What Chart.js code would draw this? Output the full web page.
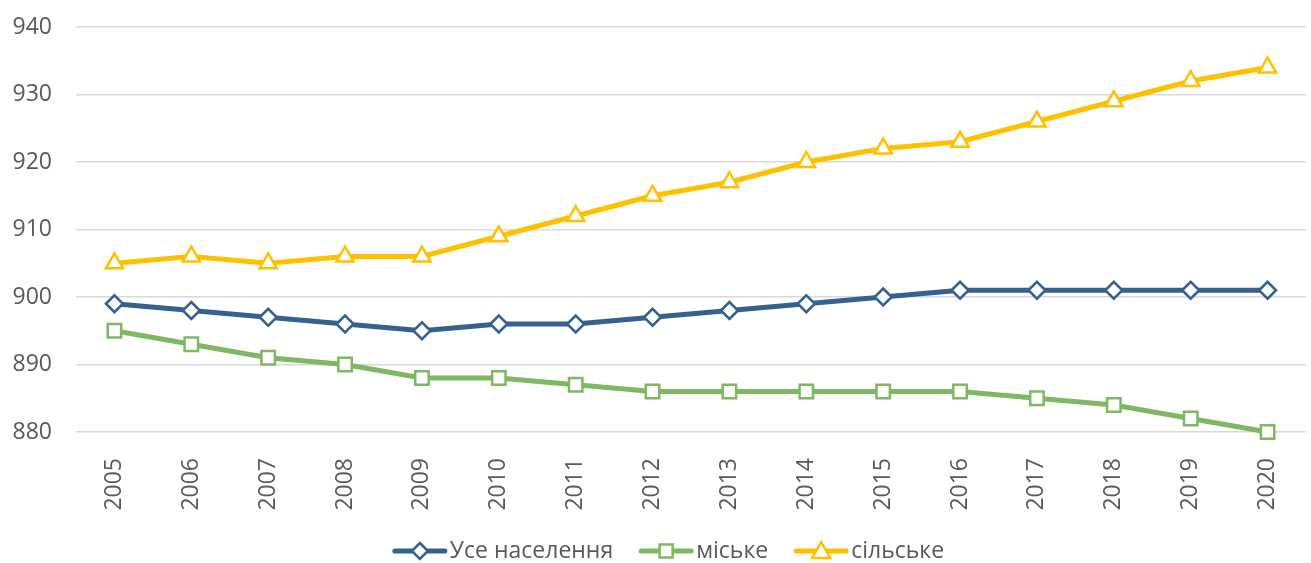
<!DOCTYPE html>
<html>
<head>
<meta charset="utf-8">
<script src="https://cdn.jsdelivr.net/npm/chart.js@4"></script>
<style>
  html, body { margin: 0; padding: 0; background: #fff; }
  #wrap { width: 1311px; height: 563px; }
</style>
</head>
<body>
<div id="wrap"><canvas id="chart" width="1311" height="563"></canvas></div>
<script>
// роки
const years = ['2005', '2006', '2007', '2008', '2009', '2010', '2011', '2012',
               '2013', '2014', '2015', '2016', '2017', '2018', '2019', '2020'];
// ряди даних
const allPop = [899, 898, 897, 896, 895, 896, 896, 897, 898, 899, 900, 901, 901, 901, 901, 901];
const urban  = [895, 893, 891, 890, 888, 888, 887, 886, 886, 886, 886, 886, 885, 884, 882, 880];
const rural  = [905, 906, 905, 906, 906, 909, 912, 915, 917, 920, 922, 923, 926, 929, 932, 934];
const yTicks = [880, 890, 900, 910, 920, 930, 940];

const BLUE = '#36608f';
const GREEN = '#7db862';
const YELLOW = '#ffc000';
const TEXT = '#595959';
const FONT = '23px "Open Sans"';

// лінія + маркер для легенди
function drawIcon(g, x, y, color, shape) {
    g.save();
    g.strokeStyle = color;
    g.lineWidth = 5;
    g.lineCap = 'round';
    g.beginPath(); g.moveTo(x + 3, y); g.lineTo(x + 53, y); g.stroke();
    g.fillStyle = '#fff';
    g.lineWidth = 2.5;
    g.beginPath();
    const cx = x + 28;
    if (shape === 'rectRot') {
        g.moveTo(cx, y - 8); g.lineTo(cx + 8, y); g.lineTo(cx, y + 8); g.lineTo(cx - 8, y); g.closePath();
    } else if (shape === 'rect') {
        g.rect(cx - 6.5, y - 6.5, 13, 13);
    } else {
        g.moveTo(cx, y - 9); g.lineTo(cx + 9, y + 7); g.lineTo(cx - 9, y + 7); g.closePath();
    }
    g.fill(); g.stroke();
    g.restore();
}

// власна легенда внизу
const bottomLegend = {
    id: 'bottomLegend',
    afterDraw(chart) {
        const g = chart.ctx;
        const items = chart.data.datasets;
        g.save();
        g.font = FONT;
        g.textBaseline = 'middle';
        g.fillStyle = TEXT;
        const iconW = 56, gapText = 2, gapItem = 25;
        let total = 0;
        items.forEach((ds, i) => {
            total += iconW + gapText + g.measureText(ds.label).width;
            if (i < items.length - 1) total += gapItem;
        });
        let x = 668 - total / 2;
        const y = 551;
        items.forEach(ds => {
            drawIcon(g, x, y, ds.borderColor, ds.pointStyle);
            x += iconW + gapText;
            g.fillStyle = TEXT;
            g.fillText(ds.label, x, y);
            x += g.measureText(ds.label).width + gapItem;
        });
        g.restore();
    }
};

function series(label, data, color, style, radius) {
    return {
        label: label,
        data: data,
        borderColor: color,
        backgroundColor: '#fff',
        borderWidth: 5,
        pointStyle: style,
        pointRadius: radius,
        pointHoverRadius: radius,
        pointBorderWidth: 2.5,
        pointBackgroundColor: '#fff',
        pointBorderColor: color,
        tension: 0,
        clip: false
    };
}

const ctx = document.getElementById('chart').getContext('2d');
new Chart(ctx, {
    type: 'line',
    data: {
        labels: years,
        datasets: [
            series('Усе населення', allPop, BLUE, 'rectRot', 8.5),
            series('міське', urban, GREEN, 'rect', 9.5),
            series('сільське', rural, YELLOW, 'triangle', 10)
        ]
    },
    options: {
        responsive: false,
        animation: false,
        layout: { autoPadding: false, padding: { top: 27, right: 5, left: 0, bottom: 0 } },
        plugins: {
            tooltip: { enabled: false },
            legend: { display: false }
        },
        scales: {
            x: {
                offset: true,
                grid: { display: false },
                border: { display: false },
                ticks: {
                    font: { family: 'Open Sans', size: 23 },
                    color: TEXT,
                    minRotation: 90,
                    maxRotation: 90,
                    padding: 18
                },
                afterFit: function (scale) {
                    scale.height = 131;
                    scale.paddingLeft = 0;
                    scale.paddingRight = 0;
                }
            },
            y: {
                min: 880,
                max: 940,
                afterBuildTicks: function (scale) {
                    scale.ticks = yTicks.map(v => ({ value: v }));
                },
                grid: { color: '#d9d9d9', lineWidth: 1.5, drawTicks: false },
                border: { display: false },
                ticks: {
                    font: { family: 'Open Sans', size: 23 },
                    color: TEXT,
                    padding: 24
                },
                afterFit: function (scale) {
                    scale.width = 76;
                    scale.paddingTop = 0;
                    scale.paddingBottom = 0;
                }
            }
        }
    },
    plugins: [bottomLegend]
});
</script>
</body>
</html>
